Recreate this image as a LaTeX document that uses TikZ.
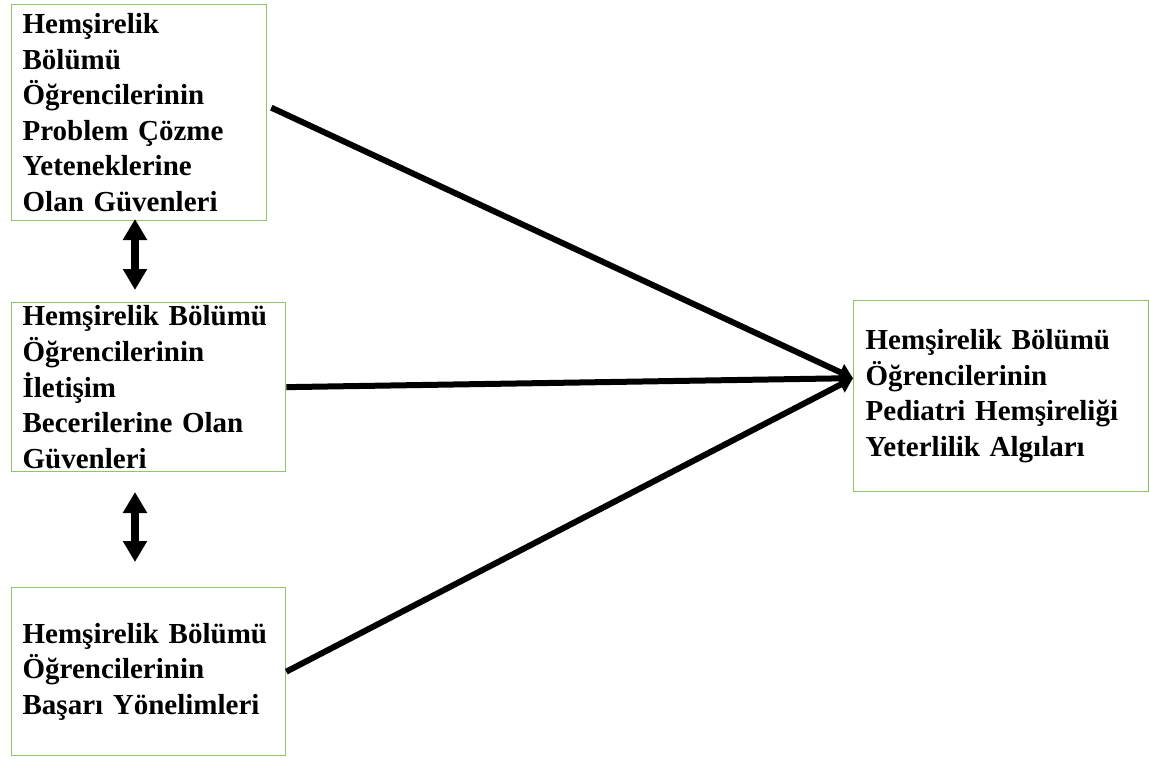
\documentclass[tikz,border=0pt]{standalone}
\usepackage{fontspec}
\setmainfont{Liberation Serif}
\usepackage{xcolor}
\usetikzlibrary{arrows.meta}
\definecolor{boxgreen}{RGB}{143,196,110}

\begin{document}
\begin{tikzpicture}[x=1pt,y=-1pt]
\tikzstyle{factor}=[draw=boxgreen,line width=1.3pt,anchor=north west,align=left,
  inner xsep=11pt,inner ysep=0pt,font=\fontsize{29}{35.6}\selectfont\bfseries]
\tikzstyle{effect}=[line width=6pt,-{Triangle[length=14pt,width=17pt]}]
\tikzstyle{corr}=[line width=8pt,{Triangle[length=21pt,width=23pt]}-{Triangle[length=21pt,width=23pt]}]
\useasboundingbox (0,0) rectangle (1149,758);
\node[factor,text width=233pt,minimum height=216pt] (guven) at (11,4)
  {Hemşirelik\\ Bölümü\\ Öğrencilerinin\\ Problem Çözme\\ Yeteneklerine\\ Olan Güvenleri};
\node[factor,text width=252pt,minimum height=169pt] (iletisim) at (11,302)
  {Hemşirelik Bölümü\\ Öğrencilerinin\\ İletişim\\ Becerilerine Olan\\ Güvenleri};
\node[factor,text width=252pt,minimum height=168pt] (basari) at (11,587)
  {Hemşirelik Bölümü\\ Öğrencilerinin\\ Başarı Yönelimleri};
\node[factor,text width=271pt,inner xsep=12pt,minimum height=191pt] (yeterlilik) at (853,300)
  {Hemşirelik Bölümü\\ Öğrencilerinin\\ Pediatri Hemşireliği\\ Yeterlilik Algıları};
% two-way links between the factors
\coordinate (c1) at (135,219);
\coordinate (c2) at (135,290);
\coordinate (c3) at (135,492);
\coordinate (c4) at (135,562);
\draw[corr] (c1) -- (c2);
\draw[corr] (c3) -- (c4);
% effects on the outcome
\coordinate (hit) at ([yshift=18pt]yeterlilik.west);
\draw[effect] ([shift={(4pt,5pt)}]guven.east) -- (hit);
\draw[effect] (iletisim.east) -- (hit);
\draw[effect] (basari.east) -- (hit);
\end{tikzpicture}
\end{document}
